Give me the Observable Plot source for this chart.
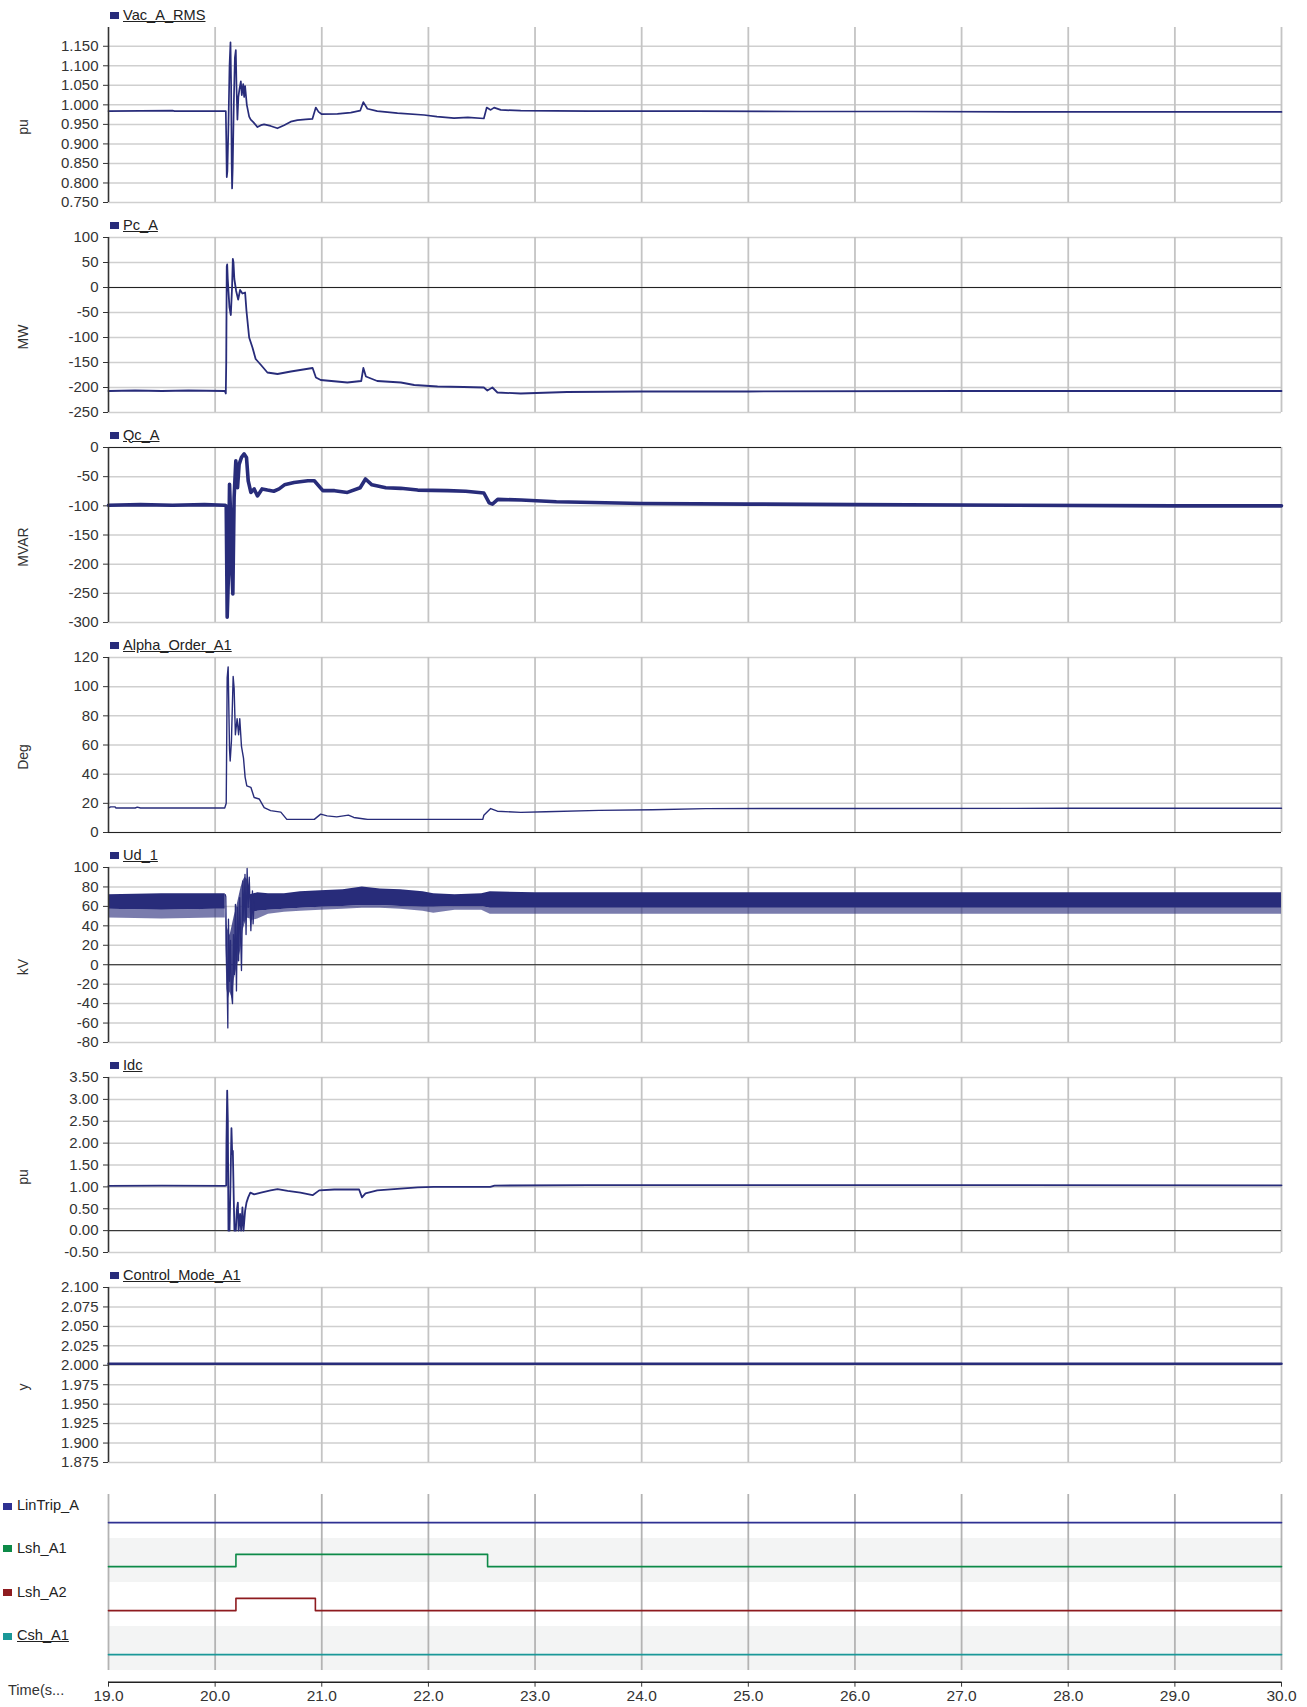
<!DOCTYPE html>
<html><head><meta charset="utf-8">
<script src="https://cdn.jsdelivr.net/npm/d3@7"></script>
<script src="https://cdn.jsdelivr.net/npm/@observablehq/plot@0.6"></script>
<style>
body{margin:0;background:#fff;font-family:"Liberation Sans",Arial,sans-serif;}
#wrap{position:relative;width:1307px;height:1707px;overflow:hidden;background:#fff;}
#wrap svg{position:absolute;left:0;}
.leg{position:absolute;font-size:14.6px;line-height:1;color:#222;white-space:nowrap;}
.u{text-decoration:underline;}
.sq{position:absolute;width:9px;height:7px;}
</style></head><body><div id="wrap"></div>
<script>
// ---------- data ----------
const seconds = [19,20,21,22,23,24,25,26,27,28,29,30];

const vacTicks = [0.75,0.8,0.85,0.9,0.95,1.0,1.05,1.1,1.15];
const pcTicks = [-250,-200,-150,-100,-50,0,50,100];
const qcTicks = [-300,-250,-200,-150,-100,-50,0];
const alphaTicks = [0,20,40,60,80,100,120];
const udTicks = [-80,-60,-40,-20,0,20,40,60,80,100];
const idcTicks = [-0.5,0,0.5,1,1.5,2,2.5,3,3.5];
const ctrlTicks = [1.875,1.9,1.925,1.95,1.975,2.0,2.025,2.05,2.075,2.1];

const vac = [[19.0,0.984],[19.6,0.985],[19.62,0.984],[20.09,0.984],[20.100,0.984],[20.105,0.90],[20.109,0.815],[20.115,0.83],[20.125,0.95],[20.135,1.10],[20.144,1.16],[20.150,1.05],[20.155,0.85],[20.159,0.786],[20.165,0.84],[20.175,1.00],[20.185,1.12],[20.194,1.14],[20.200,1.05],[20.209,0.962],[20.218,1.02],[20.228,1.04],[20.241,1.06],[20.250,1.025],[20.263,1.053],[20.272,1.02],[20.281,1.048],[20.297,1.00],[20.319,0.970],[20.334,0.962],[20.36,0.955],[20.397,0.943],[20.43,0.948],[20.459,0.950],[20.52,0.946],[20.584,0.940],[20.647,0.948],[20.709,0.957],[20.772,0.961],[20.85,0.963],[20.912,0.964],[20.944,0.993],[20.97,0.982],[21.0,0.976],[21.147,0.977],[21.272,0.980],[21.36,0.985],[21.39,1.007],[21.428,0.990],[21.52,0.984],[21.71,0.979],[21.96,0.974],[22.08,0.970],[22.24,0.966],[22.37,0.968],[22.52,0.965],[22.547,0.993],[22.584,0.987],[22.616,0.993],[22.678,0.987],[22.866,0.985],[23.5,0.984],[24.5,0.984],[25.5,0.983],[26.5,0.983],[27.5,0.982],[28.5,0.982],[29.5,0.982],[30.0,0.982]];

const pc = [[19.0,-207],[19.25,-206],[19.5,-207],[19.75,-206],[20.09,-207],[20.10,-212],[20.104,-150],[20.109,42],[20.113,46],[20.118,18],[20.134,-39],[20.147,-55],[20.159,2],[20.166,57],[20.172,50],[20.18,17],[20.197,-7],[20.216,-24],[20.234,-5],[20.256,-12],[20.281,-10],[20.294,-47],[20.319,-100],[20.35,-120],[20.38,-143],[20.43,-155],[20.49,-170],[20.585,-173],[20.71,-168],[20.914,-161],[20.945,-180],[20.99,-185],[21.24,-190],[21.37,-187],[21.39,-161],[21.414,-178],[21.52,-187],[21.742,-190],[21.867,-195],[22.086,-198],[22.33,-199],[22.52,-200],[22.553,-206],[22.6,-200],[22.647,-210],[22.866,-212],[23.3,-209],[24,-208],[25,-208],[27,-207],[30,-207]];

const qc = [[19.0,-99],[19.3,-98],[19.6,-99],[19.9,-98],[20.09,-99],[20.104,-100],[20.113,-291],[20.125,-217],[20.135,-63],[20.147,-126],[20.157,-211],[20.166,-251],[20.178,-86],[20.194,-23],[20.21,-69],[20.225,-29],[20.247,-17],[20.272,-11],[20.294,-17],[20.31,-57],[20.335,-77],[20.366,-71],[20.397,-83],[20.44,-71],[20.49,-73],[20.55,-75],[20.60,-71],[20.65,-64],[20.74,-60],[20.87,-57],[20.93,-57],[21.01,-74],[21.12,-74],[21.24,-77],[21.36,-69],[21.41,-54],[21.47,-64],[21.60,-69],[21.74,-70],[21.9,-73],[22.18,-74],[22.35,-75],[22.52,-78],[22.57,-95],[22.6,-97],[22.65,-89],[22.87,-90],[23.2,-93],[24,-96],[25,-97],[26,-98],[27.5,-99],[29,-100],[30,-100]];

const alpha = [[19.0,16.8],[19.02,17.6],[19.06,17.6],[19.07,16.8],[19.25,16.8],[19.27,17.4],[19.3,16.8],[20.09,16.8],[20.104,20],[20.113,106],[20.122,113.6],[20.135,57],[20.141,49],[20.153,63],[20.169,107],[20.178,99],[20.19,67],[20.206,78],[20.22,67],[20.231,78],[20.247,59],[20.266,51],[20.281,38],[20.297,32],[20.335,31],[20.366,24],[20.413,23],[20.46,17],[20.52,15],[20.616,14],[20.672,9],[20.93,9],[20.99,12.6],[21.05,11.4],[21.14,10.7],[21.25,11.9],[21.30,10.3],[21.40,9.3],[21.43,9],[22.51,9],[22.52,11.8],[22.584,16.4],[22.647,14.6],[22.866,13.8],[23.1,14.2],[23.6,15.2],[24.1,15.6],[24.6,16.4],[26,16.5],[28,16.6],[30,16.6]];

// Ud_1 ripple band: [time, spike floor, dense floor, top]
const udBandPre = [[19.0,48,57,72],[19.5,47,56,73],[20.0,48,57,73],[20.095,48,57,73]];
const udBandPost = [[20.33,45,53,72],[20.40,47,55,74],[20.5,52,56,73],[20.65,54,57,73],[20.8,55,58,75],[20.99,56,59,76],[21.2,57,60,77],[21.38,58,61,80],[21.55,58,61,78],[21.74,57,60,77],[21.95,55,59,75],[22.05,53,59,73],[22.25,56,60,72],[22.5,56,60,73],[22.58,52,58,75],[23,52,58,74],[24,52,58,74],[25,52,58,74],[26,52,58,74],[27,52,58,74],[28,52,58,74],[29,52,58,74],[30,52,58,74]];
// transient envelope: [time, low, high]
const udTransEnv = [[20.10,20,60],[20.11,-25,40],[20.125,-35,35],[20.14,-28,30],[20.16,-35,40],[20.18,-15,50],[20.20,-5,58],[20.22,5,68],[20.24,15,78],[20.26,35,86],[20.28,42,90],[20.30,48,88],[20.33,47,78]];
const udTrans = [[20.095,72],[20.10,70],[20.106,18],[20.113,-23],[20.119,-65],[20.125,47],[20.135,-17],[20.144,25],[20.153,-30],[20.163,-40],[20.172,31],[20.181,-10],[20.19,62],[20.20,-27],[20.21,59],[20.22,4],[20.23,69],[20.24,25],[20.247,-6],[20.26,86],[20.27,45],[20.28,93],[20.29,31],[20.30,99],[20.31,59],[20.32,90],[20.335,35],[20.35,76],[20.356,42],[20.366,66]];

const idc = [[19.0,1.025],[19.5,1.03],[20.09,1.025],[20.104,1.03],[20.106,1.98],[20.113,3.2],[20.119,2.52],[20.125,0],[20.135,0],[20.144,1.07],[20.153,2.34],[20.16,1.75],[20.166,1.82],[20.175,0.68],[20.181,0],[20.194,0],[20.203,0.46],[20.213,0.64],[20.22,0],[20.234,0.38],[20.244,0],[20.256,0.53],[20.266,0],[20.281,0.45],[20.294,0.64],[20.31,0.76],[20.33,0.87],[20.366,0.83],[20.43,0.87],[20.52,0.92],[20.585,0.95],[20.68,0.91],[20.80,0.87],[20.914,0.81],[20.976,0.92],[21.117,0.94],[21.35,0.94],[21.377,0.76],[21.41,0.85],[21.52,0.92],[21.74,0.96],[21.9,0.99],[22.05,1.0],[22.3,1.0],[22.58,1.0],[22.62,1.03],[23.5,1.04],[25,1.04],[27,1.04],[30,1.035]];

const ctrl = [[19,2.002],[30,2.002]];

const digNames = ["LinTrip_A","Lsh_A1","Lsh_A2","Csh_A1"];
const digColors = ["#2e3192","#0d8a48","#8e1b1f","#1a9898"];
const linTrip = [[19,0],[30,0]];
const lshA1 = [[19,0],[20.195,1],[22.555,0],[30,0]];
const lshA2 = [[19,0],[20.195,1],[20.94,0],[30,0]];
const cshA1 = [[19,0],[30,0]];

// ---------- drawing ----------
const NAVY = "#282c7a";
const wrap = document.getElementById("wrap");
const STYLE = {fontFamily:"'Liberation Sans', Arial, sans-serif", fontSize:"15px", color:"#333", background:"transparent", overflow:"visible"};
const X = d => d[0], Y = d => d[1];

function analog(i, name, unit, domain, ticks, dec, seriesMarks) {
  const marks = [
    Plot.ruleY(ticks, {stroke:"#cfcfcf", strokeWidth:1.5}),
    Plot.ruleX(seconds.slice(1), {stroke:"#c4c4c4", strokeWidth:1.8}),
  ];
  if (domain[0] <= 0 && domain[1] >= 0) marks.push(Plot.ruleY([0], {stroke:"#222", strokeWidth:1}));
  marks.push(...seriesMarks);
  marks.push(Plot.ruleX([19], {stroke:"#333", strokeWidth:1.6}));
  marks.push(Plot.text([unit], {text:d=>d, frameAnchor:"left", dx:-85, dy:12, rotate:-90, textAnchor:"middle", fontSize:14, fill:"#333"}));
  const svg = Plot.plot({
    width:1307, height:210, marginTop:27, marginBottom:8, marginLeft:108, marginRight:26,
    style: STYLE,
    x:{domain:[19,30], axis:null},
    y:{domain, ticks, tickFormat:d=>d.toFixed(dec), tickSize:5, tickPadding:5, label:null},
    marks
  });
  svg.style.top = (210*i) + "px";
  wrap.appendChild(svg);
  const sq = document.createElement("div");
  sq.className = "sq"; sq.style.left = "110px"; sq.style.top = (210*i+12) + "px"; sq.style.background = NAVY;
  wrap.appendChild(sq);
  const lg = document.createElement("div");
  lg.className = "leg u"; lg.style.left = "123px"; lg.style.top = (210*i+7.5) + "px"; lg.textContent = name;
  wrap.appendChild(lg);
}

analog(0, "Vac_A_RMS", "pu", [0.75,1.198], vacTicks, 3,
  [Plot.line(vac, {x:X, y:Y, stroke:NAVY, strokeWidth:1.7})]);
analog(1, "Pc_A", "MW", [-250,100], pcTicks, 0,
  [Plot.line(pc, {x:X, y:Y, stroke:NAVY, strokeWidth:1.8})]);
analog(2, "Qc_A", "MVAR", [-300,0], qcTicks, 0,
  [Plot.line(qc, {x:X, y:Y, stroke:NAVY, strokeWidth:3.6})]);
analog(3, "Alpha_Order_A1", "Deg", [0,120], alphaTicks, 0,
  [Plot.line(alpha, {x:X, y:Y, stroke:NAVY, strokeWidth:1.4})]);
analog(4, "Ud_1", "kV", [-80,100], udTicks, 0, [
  Plot.areaY(udBandPre, {x:X, y1:d=>d[1], y2:d=>d[2], fill:NAVY, fillOpacity:0.62}),
  Plot.areaY(udBandPre, {x:X, y1:d=>d[2], y2:d=>d[3], fill:NAVY}),
  Plot.areaY(udBandPost, {x:X, y1:d=>d[1], y2:d=>d[2], fill:NAVY, fillOpacity:0.62}),
  Plot.areaY(udBandPost, {x:X, y1:d=>d[2], y2:d=>d[3], fill:NAVY}),
  Plot.areaY(udTransEnv, {x:X, y1:d=>d[1], y2:d=>d[2], fill:NAVY, fillOpacity:0.8}),
  Plot.line(udTrans, {x:X, y:Y, stroke:NAVY, strokeWidth:1.3})
]);
analog(5, "Idc", "pu", [-0.5,3.5], idcTicks, 2,
  [Plot.line(idc, {x:X, y:Y, stroke:NAVY, strokeWidth:1.8})]);
analog(6, "Control_Mode_A1", "y", [1.875,2.1], ctrlTicks, 3,
  [Plot.line(ctrl, {x:X, y:Y, stroke:NAVY, strokeWidth:2.5})]);

// digital section
const yMin = -0.266;
const sigs = [linTrip, lshA1, lshA2, cshA1];
const rows = digNames.map((n, i) => ({name:n, i, base:3-i}));
const digMarks = [
  Plot.rectY(rows.filter(r => r.i % 2 === 1), {x1:19, x2:30, y1:r=>r.base, y2:r=>r.base+1, fill:"#f3f4f4"}),
  Plot.ruleX(seconds, {y1:0, y2:4, stroke:"#b3b3b3", strokeWidth:1.8}),
  ...sigs.map((s, i) => Plot.line(s, {x:X, y:d => (3-i) + 0.36 + 0.28*d[1], curve:"step-after", stroke:digColors[i], strokeWidth:1.6})),
  Plot.ruleY([yMin], {stroke:"#222", strokeWidth:1.6})
];
const dsvg = Plot.plot({
  width:1307, height:237, marginTop:24, marginBottom:25.3, marginLeft:108, marginRight:26,
  style: {...STYLE, fontSize:"15.5px"},
  x:{domain:[19,30], ticks:seconds, tickFormat:d=>d.toFixed(1), tickSize:5, tickPadding:3, label:null},
  y:{domain:[yMin,4], axis:null},
  marks: digMarks
});
dsvg.style.top = "1470px";
wrap.appendChild(dsvg);
const centers = [1506, 1548.3, 1592.3, 1636];
digNames.forEach((n, i) => {
  const sq = document.createElement("div");
  sq.className = "sq"; sq.style.left = "3px"; sq.style.top = (centers[i]-3.5) + "px"; sq.style.background = digColors[i];
  wrap.appendChild(sq);
  const lg = document.createElement("div");
  lg.className = "leg" + (i === 3 ? " u" : ""); lg.style.left = "17px"; lg.style.top = (centers[i]-7.8) + "px"; lg.textContent = n;
  wrap.appendChild(lg);
});
const tl = document.createElement("div");
tl.className = "leg"; tl.style.left = "8px"; tl.style.top = "1683px"; tl.style.color = "#333"; tl.textContent = "Time(s...";
wrap.appendChild(tl);
</script></body></html>
